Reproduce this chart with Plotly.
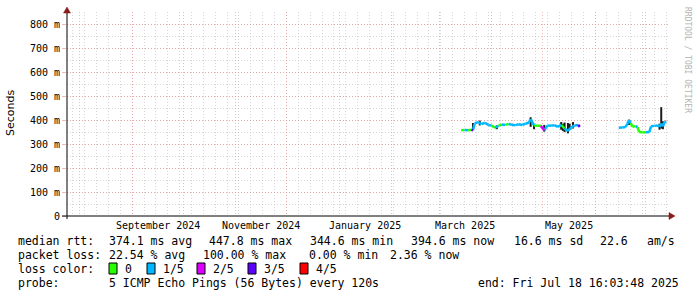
import plotly.graph_objects as go
import pandas as pd

# ---------------- data ----------------
seg1_dates = ["2025-03-14", "2025-03-16", "2025-03-18", "2025-03-20", "2025-03-21",
              "2025-03-22", "2025-03-24", "2025-03-26", "2025-03-28", "2025-03-30",
              "2025-04-01", "2025-04-03", "2025-04-05", "2025-04-07", "2025-04-09",
              "2025-04-11", "2025-04-13", "2025-04-15", "2025-04-17", "2025-04-19",
              "2025-04-21", "2025-04-23", "2025-04-24", "2025-04-26", "2025-04-28",
              "2025-04-30", "2025-05-02", "2025-05-04", "2025-05-06", "2025-05-08",
              "2025-05-10", "2025-05-12", "2025-05-14", "2025-05-16", "2025-05-18",
              "2025-05-20", "2025-05-22", "2025-05-23"]
seg1_rtt = [358, 359, 358, 360, 358, 386, 392, 383, 389, 380,
            377, 368, 376, 382, 380, 384, 381, 379, 383, 380,
            385, 390, 405, 378, 377, 376, 358, 378, 377, 379,
            372, 380, 365, 355, 370, 378, 380, 372]
seg1_loss = [0, 0, 1, 0, 3, 1, 1, 1, 1, 1,
             1, 0, 1, 0, 1, 0, 1, 1, 1, 1,
             1, 1, 1, 1, 0, 0, 2, 1, 1, 1,
             1, 1, 0, 1, 1, 1, 1, 3]

seg2_dates = ["2025-06-15", "2025-06-17", "2025-06-19", "2025-06-20", "2025-06-21",
              "2025-06-22", "2025-06-23", "2025-06-25", "2025-06-26", "2025-06-27",
              "2025-06-29", "2025-07-01", "2025-07-03", "2025-07-04", "2025-07-06",
              "2025-07-08", "2025-07-09", "2025-07-10", "2025-07-11", "2025-07-12",
              "2025-07-13"]
seg2_rtt = [368, 369, 371, 385, 400, 388, 372, 375, 371, 350,
            349, 349, 350, 374, 376, 378, 372, 386, 374, 392, 395]
seg2_loss = [2, 1, 1, 1, 1, 1, 0, 0, 1, 0,
             0, 0, 1, 1, 1, 1, 1, 1, 1, 1, 1]

smoke_dates = ["2025-03-21", "2025-03-25", "2025-04-04", "2025-04-24", "2025-04-26",
               "2025-05-02", "2025-05-12", "2025-05-13", "2025-05-14", "2025-05-16",
               "2025-05-17", "2025-05-19", "2025-06-21", "2025-07-09", "2025-07-10",
               "2025-07-11"]
smoke_lo = [358, 378, 362, 372, 362, 352, 360, 355, 350, 345, 360, 365, 380, 360, 365, 362]
smoke_hi = [388, 398, 378, 412, 380, 380, 392, 385, 390, 388, 385, 392, 402, 385, 454, 395]

loss_names = ["0", "1/5", "2/5", "3/5", "4/5"]
loss_colors = ["#26ff00", "#00b8ff", "#dd00ff", "#5e00ff", "#ff0000"]

month_labels = ["September 2024", "November 2024", "January 2025", "March 2025", "May 2025"]
month_label_starts = ["2024-09-01", "2024-11-01", "2025-01-01", "2025-03-01", "2025-05-01"]
month_grid = ["2024-08-01", "2024-09-01", "2024-10-01", "2024-11-01", "2024-12-01",
              "2025-01-01", "2025-02-01", "2025-03-01", "2025-04-01", "2025-05-01",
              "2025-06-01", "2025-07-01"]

ytick_vals = [0, 100, 200, 300, 400, 500, 600, 700, 800]
ytick_text = ["0", "100 m", "200 m", "300 m", "400 m", "500 m", "600 m", "700 m", "800 m"]

stats_rtt = ["374.1 ms avg", "447.8 ms max", "344.6 ms min", "394.6 ms now", "16.6 ms sd", "22.6", "am/s"]
stats_loss = ["22.54 % avg", "100.00 % max", "0.00 % min", "2.36 % now"]
probe_text = "5 ICMP Echo Pings (56 Bytes) every 120s"
end_text = "end: Fri Jul 18 16:03:48 2025"

x_range = ["2024-07-24 14:00", "2025-07-14 14:00"]
y_range = [0, 851]

# ---------------- layout geometry ----------------
W, H = 697, 297
ML, MR, MT, MB = 67, 28, 12, 81
PW, PH = W - ML - MR, H - MT - MB


def px(x):
    return (x - ML) / PW


def py(y):
    return (H - MB - y) / PH


MONO = "DejaVu Sans Mono"
fig = go.Figure()

# smoke
sx, sy = [], []
for d, lo, hi in zip(smoke_dates, smoke_lo, smoke_hi):
    sx += [d, d, None]
    sy += [lo, hi, None]
fig.add_trace(go.Scatter(x=sx, y=sy, mode="lines",
                         line=dict(color="#1c1c1c", width=2),
                         hoverinfo="skip", showlegend=False))

# median line coloured by loss
for ci, col in enumerate(loss_colors):
    xs, ys = [], []
    for dates, vals, loss in ((seg1_dates, seg1_rtt, seg1_loss), (seg2_dates, seg2_rtt, seg2_loss)):
        for i in range(len(dates) - 1):
            if loss[i + 1] == ci:
                xs += [dates[i], dates[i + 1], None]
                ys += [vals[i], vals[i + 1], None]
    if xs:
        fig.add_trace(go.Scatter(x=xs, y=ys, mode="lines",
                                 line=dict(color=col, width=2.5),
                                 hoverinfo="skip", showlegend=False))

MAJ = "rgba(235,140,140,0.6)"
MIN = "rgba(180,180,180,0.55)"

fig.update_layout(
    width=W, height=H,
    margin=dict(l=ML, r=MR, t=MT, b=MB),
    paper_bgcolor="white", plot_bgcolor="white",
    showlegend=False,
    font=dict(family=MONO, size=10, color="black"),
    xaxis=dict(
        type="date", range=x_range,
        tickmode="array", tickvals=month_grid, ticktext=[""] * len(month_grid),
        showticklabels=False,
        showgrid=True, gridcolor=MAJ, griddash="1px,2px", gridwidth=1,
        ticks="", zeroline=False, showline=False,
        minor=dict(tickmode="linear", tick0="2024-08-04", dtick=7 * 86400000,
                   showgrid=True, gridcolor=MIN, griddash="1px,2px", gridwidth=1, ticks=""),
    ),
    yaxis=dict(
        range=y_range,
        tickmode="array", tickvals=ytick_vals, ticktext=ytick_text,
        showgrid=True, gridcolor=MAJ, griddash="1px,2px", gridwidth=1,
        ticks="outside", ticklen=4, tickcolor=MAJ,
        tickfont=dict(family=MONO, size=10),
        zeroline=False, showline=False,
        minor=dict(tickmode="linear", tick0=0, dtick=50,
                   showgrid=True, gridcolor=MIN, griddash="1px,2px", gridwidth=1, ticks=""),
    ),
)

shapes = []
AX = "#000000"
ARROW = "#8b1a1a"
# x axis line
shapes.append(dict(type="line", xref="paper", yref="paper",
                   x0=px(62), x1=px(670), y0=0, y1=0, line=dict(color=AX, width=1)))
# y axis line
shapes.append(dict(type="line", xref="paper", yref="paper",
                   x0=0, x1=0, y0=py(219), y1=py(10), line=dict(color=AX, width=1)))
# arrows
shapes.append(dict(type="path", xref="paper", yref="paper",
                   path=f"M {px(669)} {py(212.5)} L {px(675)} {py(216)} L {px(669)} {py(219.5)} Z",
                   fillcolor=ARROW, line=dict(color=ARROW, width=0.5)))
shapes.append(dict(type="path", xref="paper", yref="paper",
                   path=f"M {px(63.5)} {py(13)} L {px(67)} {py(7)} L {px(70.5)} {py(13)} Z",
                   fillcolor=ARROW, line=dict(color=ARROW, width=0.5)))

annotations = []
# month labels centred in their month
for lab, st in zip(month_labels, month_label_starts):
    t0 = pd.Timestamp(st)
    t1 = t0 + pd.offsets.MonthBegin(1)
    mid = t0 + (t1 - t0) / 2
    annotations.append(dict(x=mid, y=py(225), xref="x", yref="paper", text=lab,
                            showarrow=False, xanchor="center", yanchor="middle",
                            font=dict(family=MONO, size=10)))

# y title
annotations.append(dict(x=px(10), y=py(113), xref="paper", yref="paper", text="Seconds",
                        textangle=-90, showarrow=False, xanchor="center", yanchor="middle",
                        font=dict(family="DejaVu Sans", size=11)))
# watermark
annotations.append(dict(x=px(687), y=py(5), xref="paper", yref="paper",
                        text="RRDTOOL / TOBI OETIKER", textangle=90, showarrow=False,
                        xanchor="center", yanchor="top",
                        font=dict(family=MONO, size=8, color="#b4b4b4")))

LF = dict(family=MONO, size=11.5, color="black")


def txt(x, y, s, anchor="left"):
    annotations.append(dict(x=px(x), y=py(y), xref="paper", yref="paper", text=s,
                            showarrow=False, xanchor=anchor, yanchor="middle", font=LF))


# legend line 1
txt(16, 241, "median rtt:")
for s, xp in zip(stats_rtt, [107, 207, 308, 409, 512, 598, 645]):
    txt(xp, 241, s)
# line 2
txt(16, 255, "packet loss:")
for s, xp in zip(stats_loss, [107, 201, 307, 388]):
    txt(xp, 255, s)
# line 3
txt(16, 269, "loss color:")
for name, col, bx in zip(loss_names, loss_colors, [109, 147, 197, 248, 300]):
    shapes.append(dict(type="rect", xref="paper", yref="paper",
                       x0=px(bx), x1=px(bx + 8), y0=py(274), y1=py(263),
                       fillcolor=col, line=dict(color="black", width=1)))
    txt(bx + 14, 269, name)
# line 4
txt(16, 283, "probe:")
txt(107, 283, probe_text)
txt(681, 283, end_text, anchor="right")

fig.update_layout(shapes=shapes, annotations=annotations)
fig.write_html("out.html")
